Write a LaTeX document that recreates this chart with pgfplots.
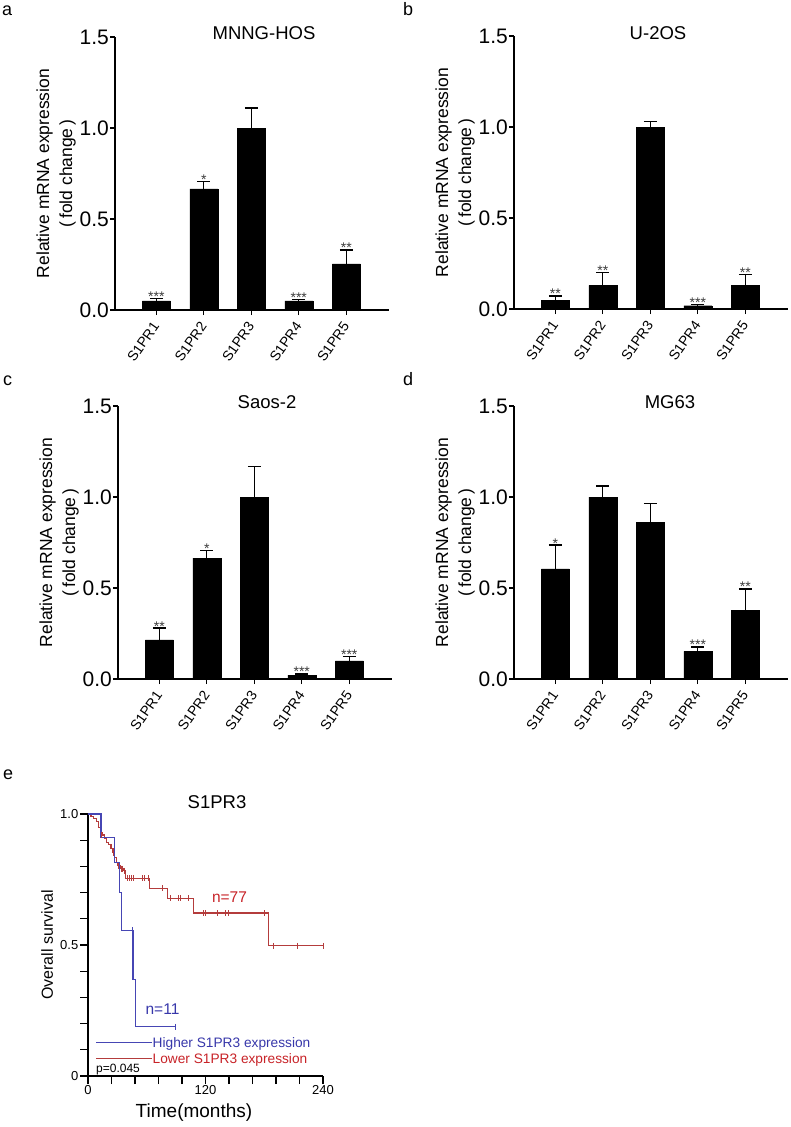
\documentclass[border=0pt]{standalone}
\usepackage{fontspec}
\setmainfont{Liberation Sans}
\usepackage{pgfplots}
\usepackage{pgfplotstable}
\pgfplotsset{compat=1.18}
\definecolor{kmblue}{RGB}{70,70,180}
\definecolor{kmred}{RGB}{180,60,60}
\definecolor{txtblue}{RGB}{55,55,170}
\definecolor{txtred}{RGB}{200,35,40}
\definecolor{stargray}{RGB}{60,60,60}

\pgfplotstableread{
x y e
0 0.050 0.014
1 0.665 0.040
2 1.000 0.110
3 0.050 0.009
4 0.253 0.077
}\dataA
\pgfplotstableread{
x y e
0 0.048 0.024
1 0.130 0.070
2 1.000 0.030
3 0.018 0.006
4 0.130 0.060
}\dataB
\pgfplotstableread{
x y e
0 0.215 0.065
1 0.664 0.042
2 1.000 0.167
3 0.022 0.006
4 0.099 0.024
}\dataC
\pgfplotstableread{
x y e
0 0.605 0.131
1 1.000 0.060
2 0.862 0.103
3 0.152 0.024
4 0.378 0.117
}\dataD

\tikzset{starlbl/.style={font=\fontsize{14}{14}\selectfont, text=stargray, anchor=base, yshift=-3pt, inner sep=0pt}}

\pgfplotsset{
  barpanel/.style={
    scale only axis, width=274pt, height=273pt,
    xmin=-0.87, xmax=4.9, ymin=0, ymax=1.5,
    axis lines=left, axis line style={-, line width=1.3pt},
    ytick={0,0.5,1,1.5}, yticklabels={0.0,0.5,1.0,1.5},
    xtick={0,1,2,3,4}, xticklabels={S1PR1,S1PR2,S1PR3,S1PR4,S1PR5},
    tick align=outside, major tick length=5pt,
    every tick/.style={black, line width=1.3pt},
    y tick label style={font=\fontsize{21}{21}\selectfont, inner sep=1pt},
    x tick label style={font=\fontsize{14}{14}\selectfont, rotate=55, anchor=east, inner sep=0.5pt},
    xticklabel shift=8pt,
    anchor=south west, clip=false,
    ylabel={Relative mRNA expression\\(\,fold change\,)},
    ylabel style={align=center, font=\fontsize{17.5}{23}\selectfont, at={(axis description cs:-0.215,0.5)}, anchor=center},
  },
  barplot/.style={ybar, bar width=28pt, fill=black, draw=black,
    error bars/.cd, y dir=plus, y explicit,
    error bar style={line width=1.3pt, black},
    error mark options={rotate=90, mark size=6.5pt, line width=1.3pt, black}},
}

\begin{document}
\begin{tikzpicture}[x=1pt,y=1pt]
\fill[white] (0,0) rectangle (790,-1127);
\path[use as bounding box] (0,0) rectangle (790,-1127);

% panel letters
\node[anchor=base west, font=\fontsize{18}{18}\selectfont, inner sep=0pt] at (2,-15) {a};
\node[anchor=base west, font=\fontsize{18}{18}\selectfont, inner sep=0pt] at (403,-15) {b};
\node[anchor=base west, font=\fontsize{18}{18}\selectfont, inner sep=0pt] at (3,-385) {c};
\node[anchor=base west, font=\fontsize{18}{18}\selectfont, inner sep=0pt] at (403,-385) {d};
\node[anchor=base west, font=\fontsize{18}{18}\selectfont, inner sep=0pt] at (3,-779) {e};

% titles
\node[anchor=base, font=\fontsize{18.5}{18.5}\selectfont, inner sep=0pt] at (264,-39) {MNNG-HOS};
\node[anchor=base, font=\fontsize{18.5}{18.5}\selectfont, inner sep=0pt] at (658,-39) {U-2OS};
\node[anchor=base, font=\fontsize{18.5}{18.5}\selectfont, inner sep=0pt] at (267,-408) {Saos-2};
\node[anchor=base, font=\fontsize{18.5}{18.5}\selectfont, inner sep=0pt] at (670,-408) {MG63};
\node[anchor=base, font=\fontsize{18.5}{18.5}\selectfont, inner sep=0pt] at (217,-808) {S1PR3};

% ---- a
\begin{axis}[barpanel, at={(115pt,-310pt)}]
\addplot[barplot] table[x=x, y=y, y error=e] {\dataA};
\node[starlbl] at (axis cs:0,0.064) {***};
\node[starlbl] at (axis cs:1,0.705) {*};
\node[starlbl] at (axis cs:3,0.059) {***};
\node[starlbl] at (axis cs:4,0.330) {**};
\end{axis}

% ---- b
\begin{axis}[barpanel, at={(514pt,-309pt)}]
\addplot[barplot] table[x=x, y=y, y error=e] {\dataB};
\node[starlbl] at (axis cs:0,0.072) {**};
\node[starlbl] at (axis cs:1,0.200) {**};
\node[starlbl] at (axis cs:3,0.024) {***};
\node[starlbl] at (axis cs:4,0.190) {**};
\end{axis}

% ---- c
\begin{axis}[barpanel, at={(118pt,-679pt)}]
\addplot[barplot] table[x=x, y=y, y error=e] {\dataC};
\node[starlbl] at (axis cs:0,0.280) {**};
\node[starlbl] at (axis cs:1,0.706) {*};
\node[starlbl] at (axis cs:3,0.028) {***};
\node[starlbl] at (axis cs:4,0.123) {***};
\end{axis}

% ---- d
\begin{axis}[barpanel, at={(514pt,-679pt)}]
\addplot[barplot] table[x=x, y=y, y error=e] {\dataD};
\node[starlbl] at (axis cs:0,0.736) {*};
\node[starlbl] at (axis cs:3,0.176) {***};
\node[starlbl] at (axis cs:4,0.495) {**};
\end{axis}

% ---- e
\begin{axis}[scale only axis, width=235pt, height=262pt, at={(88pt,-1076pt)}, anchor=south west,
  xmin=0, xmax=240, ymin=0, ymax=1,
  axis lines=left, axis line style={-, line width=1.6pt},
  xtick={0,24,48,72,96,120,144,168,192,216,240}, xticklabels={0,,,,,120,,,,,240},
  ytick={0,0.1,0.2,0.3,0.4,0.5,0.6,0.7,0.8,0.9,1}, yticklabels={0,,,,,0.5,,,,,1.0},
  tick align=outside, major tick length=8pt,
  every tick/.style={black, line width=1.3pt},
  tick label style={font=\fontsize{13}{13}\selectfont, inner sep=1.5pt},
  ylabel={Overall survival},
  ylabel style={font=\fontsize{16}{16}\selectfont, at={(axis description cs:-0.174,0.5)}, anchor=center},
  xlabel={Time(months)},
  xlabel style={font=\fontsize{19}{19}\selectfont, at={(axis description cs:0.451,-0.141)}, anchor=center},
  clip=false]
\addplot[const plot, kmred, line width=1.1pt] coordinates {
(0,1) (3.1,0.991) (5.8,0.983) (8.5,0.971) (10.9,0.949) (12.6,0.930) (14.3,0.920)
(16.7,0.907) (18.7,0.892) (21.1,0.885) (23.5,0.869) (25.5,0.853) (26.9,0.834)
(28.9,0.815) (30.3,0.802) (33,0.792) (36.4,0.783) (38.5,0.755) (62.5,0.717)
(81,0.679) (108,0.622) (184.5,0.497) (240,0.497)};
\addplot[only marks, mark=|, mark size=3pt, kmred, mark options={line width=1pt}] coordinates {
(14,0.920) (26,0.853) (31.5,0.802) (34,0.792) (35.5,0.792) (37.5,0.783)
(40,0.755) (42,0.755) (44,0.755) (46,0.755) (56,0.755) (58,0.755) (62,0.755)
(76,0.717) (84,0.679) (92,0.679) (94,0.679) (103,0.679)
(118,0.622) (120,0.622) (132,0.622) (140.5,0.622) (143.5,0.622) (180,0.622)
(189,0.497) (214,0.497) (240,0.497)};
\addplot[const plot, kmblue, line width=1.1pt] coordinates {
(0,1) (13.3,0.909) (27.2,0.815) (32.3,0.700) (34,0.557) (46,0.369) (48.7,0.188) (89.6,0.188)};
\addplot[only marks, mark=|, mark size=3pt, kmblue, mark options={line width=1pt}] coordinates {
(45,0.557) (89.6,0.188)};
\end{axis}

% annotations panel e
\node[anchor=center, font=\fontsize{15.5}{15.5}\selectfont, text=txtred, inner sep=0pt] at (229.5,-897) {n=77};
\node[anchor=center, font=\fontsize{15.5}{15.5}\selectfont, text=txtblue, inner sep=0pt] at (162.5,-1009.5) {n=11};
\draw[kmblue, line width=1pt] (96,-1042.7) -- (152,-1042.7);
\node[anchor=base west, font=\fontsize{13.7}{13.7}\selectfont, text=txtblue, inner sep=0pt] at (152.5,-1047.7) {Higher S1PR3 expression};
\draw[kmred, line width=1pt] (96,-1058.3) -- (152,-1058.3);
\node[anchor=base west, font=\fontsize{13.7}{13.7}\selectfont, text=txtred, inner sep=0pt] at (152.5,-1063.3) {Lower S1PR3 expression};
\node[anchor=base west, font=\fontsize{12}{12}\selectfont, inner sep=0pt] at (96,-1072.7) {p=0.045};
\end{tikzpicture}
\end{document}
